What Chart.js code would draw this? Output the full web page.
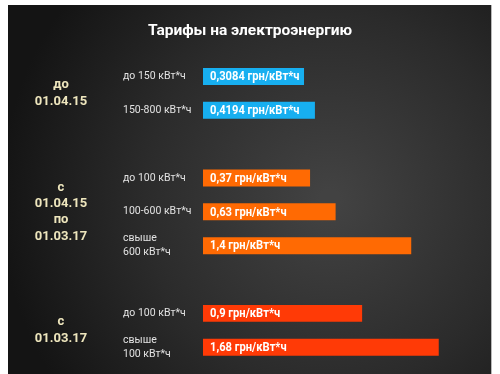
<!DOCTYPE html>
<html>
<head>
<meta charset="utf-8">
<script src="https://cdn.jsdelivr.net/npm/chart.js@4/dist/chart.umd.min.js"></script>
<style>
    html, body { margin: 0; padding: 0; background: #ffffff; }
    #wrap { width: 500px; height: 374px; }
</style>
</head>
<body>
<div id="wrap"><canvas id="myChart"></canvas></div>
<script>
"use strict";
// chart data
const title = "Тарифы на электроэнергию";
const periods = [
    ["до", "01.04.15"],
    ["с", "01.04.15", "по", "01.03.17"],
    ["с", "01.03.17"]
];
const tiers1 = ["до 150 кВт*ч", "150-800 кВт*ч"];
const tiers2 = ["до 100 кВт*ч", "100-600 кВт*ч", ["свыше", "600 кВт*ч"]];
const tiers3 = ["до 100 кВт*ч", ["свыше", "100 кВт*ч"]];
const tariffs1 = [0.3084, 0.4194];
const tariffs2 = [0.37, 0.63, 1.4];
const tariffs3 = [0.9, 1.68];
const unit = "грн/кВт*ч";

const colors = {
    blue: "#17aff0",
    orange: "#ff6a03",
    red: "#ff3a06",
    tier: "#e2e2e2",
    period: "#eee6bd",
    white: "#ffffff"
};
const groupColors = [colors.blue, colors.orange, colors.red];

// build rows: an empty slot between groups
const groups = [
    { tiers: tiers1, tariffs: tariffs1 },
    { tiers: tiers2, tariffs: tariffs2 },
    { tiers: tiers3, tariffs: tariffs3 }
];
let labels = [];
let values = [];
let barColors = [];
let groupRows = [];
groups.forEach((g, gi) => {
    if (gi > 0) {
        labels.push("");
        values.push(null);
        barColors.push("transparent");
    }
    let first = labels.length;
    g.tiers.forEach((t, i) => {
        labels.push(t);
        values.push(g.tariffs[i]);
        barColors.push(groupColors[gi]);
    });
    groupRows.push([first, labels.length - 1]);
});

// narrow text helper (the original uses a condensed face)
function narrowText(c, txt, x, y, sx) {
    c.save();
    c.translate(x, y);
    c.scale(sx, 1);
    c.fillText(txt, 0, 0);
    c.restore();
}

// dark panel + title behind everything
const panelPlugin = {
    id: "panel",
    beforeDraw(chart) {
        const c = chart.ctx;
        c.save();
        let grad = c.createRadialGradient(330, 200, 10, 330, 200, 330);
        grad.addColorStop(0, "#424242");
        grad.addColorStop(0.55, "#2b2b2b");
        grad.addColorStop(1, "#141414");
        c.fillStyle = grad;
        c.fillRect(8, 5, 483, 369);
        c.fillStyle = "#b8b8b8";
        c.fillRect(491, 5, 1, 369);
        c.fillStyle = colors.white;
        c.font = "bold 15.5px Roboto";
        c.textAlign = "center";
        c.textBaseline = "middle";
        c.fillText(title, 250, 31);
        c.restore();
    }
};

// value text inside bars + period labels on the left
const textPlugin = {
    id: "texts",
    afterDatasetsDraw(chart) {
        const c = chart.ctx;
        const meta = chart.getDatasetMeta(0);
        c.save();
        c.fillStyle = colors.white;
        c.font = "bold 13px Roboto";
        c.textBaseline = "middle";
        c.textAlign = "left";
        meta.data.forEach((bar, i) => {
            if (values[i] === null) return;
            let txt = String(values[i]).replace(".", ",") + " " + unit;
            narrowText(c, txt, bar.base + 7, bar.y + 0.5, 0.86);
        });
        const yScale = chart.scales.y;
        c.fillStyle = colors.period;
        c.font = "bold 13px Roboto";
        c.textAlign = "center";
        const lh = 16.3;
        periods.forEach((lines, gi) => {
            let y0 = yScale.getPixelForValue(groupRows[gi][0]);
            let y1 = yScale.getPixelForValue(groupRows[gi][1]);
            let mid = (y0 + y1) / 2;
            lines.forEach((ln, li) => {
                c.fillText(ln, 61, mid + (li - (lines.length - 1) / 2) * lh);
            });
        });
        c.restore();
    }
};

const ctx = document.getElementById("myChart");
const chart = new Chart(ctx, {
    type: "bar",
    data: {
        labels: labels,
        datasets: [
            {
                data: values,
                backgroundColor: barColors,
                borderWidth: 0,
                base: -0.72,
                barPercentage: 0.5,
                categoryPercentage: 1
            }
        ]
    },
    options: {
        indexAxis: "y",
        responsive: true,
        maintainAspectRatio: false,
        animation: false,
        layout: {
            padding: { top: 59.5, left: 123, right: 20, bottom: 8.5 }
        },
        scales: {
            x: {
                display: false,
                min: -0.72,
                max: 2.1
            },
            y: {
                grid: { display: false },
                border: { display: false },
                afterFit(scale) {
                    scale.width = 80;
                },
                ticks: {
                    crossAlign: "far",
                    color: colors.tier,
                    font: { family: "Roboto", size: 10.5, lineHeight: 1.3 },
                    autoSkip: false
                }
            }
        },
        plugins: {
            legend: { display: false },
            tooltip: { enabled: false },
            title: { display: false }
        }
    },
    plugins: [panelPlugin, textPlugin]
});
</script>
</body>
</html>
